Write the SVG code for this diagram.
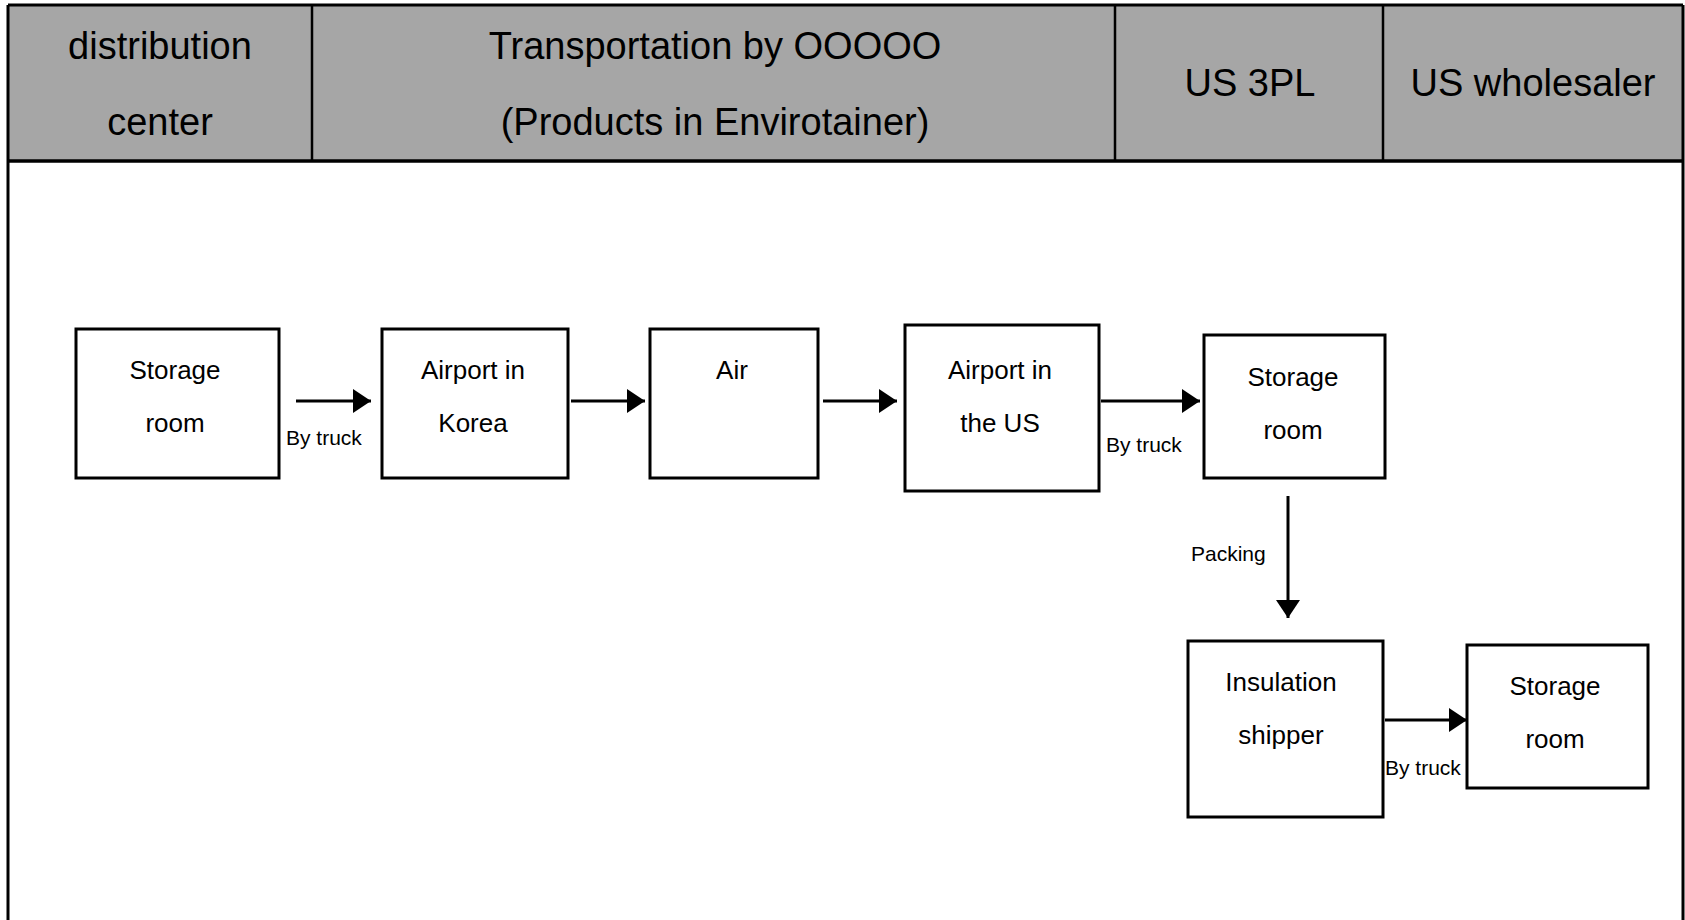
<svg xmlns="http://www.w3.org/2000/svg" width="1685" height="920" viewBox="0 0 1685 920">
<style>
.hdr{font-family:"Liberation Sans",Arial,sans-serif;font-size:38px;fill:#000;text-anchor:middle}
.box{fill:#fff;stroke:#000;stroke-width:3}
.nt{font-family:"Liberation Sans",Arial,sans-serif;font-size:26px;fill:#000;text-anchor:middle}
.lbl{font-family:"Liberation Sans",Arial,sans-serif;font-size:21px;fill:#000}
.con{stroke:#000;stroke-width:3;fill:none;marker-end:url(#ah)}
</style>
<defs>
<marker id="ah" viewBox="0 0 10 10" refX="10" refY="5" markerWidth="6" markerHeight="8" orient="auto" markerUnits="strokeWidth" preserveAspectRatio="none">
<path d="M0,0 L10,5 L0,10 z" fill="#000"/>
</marker>
</defs>
<rect width="1685" height="920" fill="#fff"/>
<g id="frame">
<rect x="8" y="5" width="1675" height="156" fill="#a6a6a6"/>
<path d="M8,5 H1683 M8,5 V920 M1683,5 V920" stroke="#000" stroke-width="3" fill="none"/>
<path d="M8,161 H1683" stroke="#000" stroke-width="3.5"/>
<path d="M312,5 V161 M1115,5 V161 M1383,5 V161" stroke="#000" stroke-width="2.5"/>
</g>
<g id="header">
<text class="hdr" x="160" y="59">distribution</text>
<text class="hdr" x="160" y="135">center</text>
<text class="hdr" x="715" y="59">Transportation by OOOOO</text>
<text class="hdr" x="715" y="135">(Products in Envirotainer)</text>
<text class="hdr" x="1250" y="96">US 3PL</text>
<text class="hdr" x="1533" y="96">US wholesaler</text>
</g>
<g id="connectors">
<line class="con" x1="296" y1="401" x2="371" y2="401"/>
<line class="con" x1="571" y1="401" x2="645" y2="401"/>
<line class="con" x1="823" y1="401" x2="897" y2="401"/>
<line class="con" x1="1101" y1="401" x2="1200" y2="401"/>
<line class="con" x1="1288" y1="496" x2="1288" y2="618"/>
<line class="con" x1="1385" y1="720" x2="1467" y2="720"/>
<text class="lbl" x="286" y="445">By truck</text>
<text class="lbl" x="1106" y="452">By truck</text>
<text class="lbl" x="1191" y="561">Packing</text>
<text class="lbl" x="1385" y="775">By truck</text>
</g>
<g id="n1"><rect class="box" x="76" y="329" width="203" height="149"/><text class="nt" x="175" y="379">Storage</text><text class="nt" x="175" y="432">room</text></g>
<g id="n2"><rect class="box" x="382" y="329" width="186" height="149"/><text class="nt" x="473" y="379">Airport in</text><text class="nt" x="473" y="432">Korea</text></g>
<g id="n3"><rect class="box" x="650" y="329" width="168" height="149"/><text class="nt" x="732" y="379">Air</text></g>
<g id="n4"><rect class="box" x="905" y="325" width="194" height="166"/><text class="nt" x="1000" y="379">Airport in</text><text class="nt" x="1000" y="432">the US</text></g>
<g id="n5"><rect class="box" x="1204" y="335" width="181" height="143"/><text class="nt" x="1293" y="386">Storage</text><text class="nt" x="1293" y="439">room</text></g>
<g id="n6"><rect class="box" x="1188" y="641" width="195" height="176"/><text class="nt" x="1281" y="691">Insulation</text><text class="nt" x="1281" y="744">shipper</text></g>
<g id="n7"><rect class="box" x="1467" y="645" width="181" height="143"/><text class="nt" x="1555" y="695">Storage</text><text class="nt" x="1555" y="748">room</text></g>
</svg>
